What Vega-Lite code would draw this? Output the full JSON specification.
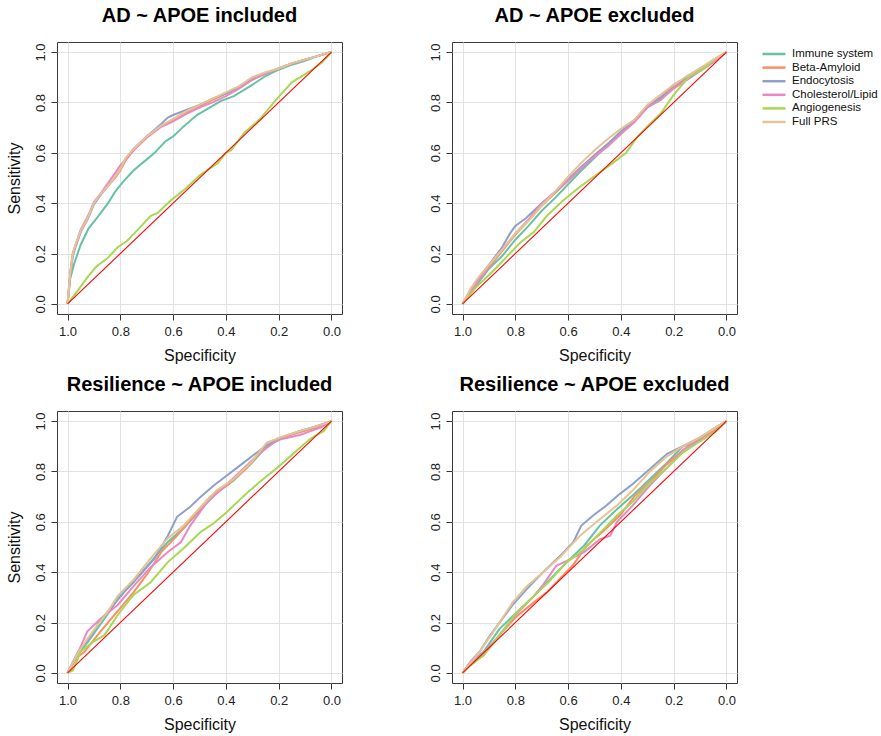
{
  "$schema": "https://vega.github.io/schema/vega-lite/v6.json",
  "padding": {"left": 5, "top": 5, "right": 5, "bottom": 0},
  "columns": 2,
  "spacing": {"row": 10, "column": 85},
  "datasets": {
    "diag": [{"spec": 1, "sens": 0}, {"spec": 0, "sens": 1}],
    "roc": [
      {"panel":"A","curve":"Immune system","spec":1,"sens":0},{"panel":"A","curve":"Immune system","spec":0.99,"sens":0.10},{"panel":"A","curve":"Immune system","spec":0.975,"sens":0.16},{"panel":"A","curve":"Immune system","spec":0.95,"sens":0.235},{"panel":"A","curve":"Immune system","spec":0.92,"sens":0.30},{"panel":"A","curve":"Immune system","spec":0.89,"sens":0.34},{"panel":"A","curve":"Immune system","spec":0.85,"sens":0.395},{"panel":"A","curve":"Immune system","spec":0.82,"sens":0.445},{"panel":"A","curve":"Immune system","spec":0.79,"sens":0.485},{"panel":"A","curve":"Immune system","spec":0.75,"sens":0.53},{"panel":"A","curve":"Immune system","spec":0.71,"sens":0.565},{"panel":"A","curve":"Immune system","spec":0.67,"sens":0.60},{"panel":"A","curve":"Immune system","spec":0.63,"sens":0.645},{"panel":"A","curve":"Immune system","spec":0.60,"sens":0.665},{"panel":"A","curve":"Immune system","spec":0.56,"sens":0.705},{"panel":"A","curve":"Immune system","spec":0.51,"sens":0.75},{"panel":"A","curve":"Immune system","spec":0.46,"sens":0.78},{"panel":"A","curve":"Immune system","spec":0.42,"sens":0.805},{"panel":"A","curve":"Immune system","spec":0.37,"sens":0.825},{"panel":"A","curve":"Immune system","spec":0.30,"sens":0.87},{"panel":"A","curve":"Immune system","spec":0.25,"sens":0.905},{"panel":"A","curve":"Immune system","spec":0.20,"sens":0.93},{"panel":"A","curve":"Immune system","spec":0.15,"sens":0.95},{"panel":"A","curve":"Immune system","spec":0.10,"sens":0.965},{"panel":"A","curve":"Immune system","spec":0.05,"sens":0.985},{"panel":"A","curve":"Immune system","spec":0,"sens":1},
      {"panel":"A","curve":"Beta-Amyloid","spec":1,"sens":0},{"panel":"A","curve":"Beta-Amyloid","spec":0.99,"sens":0.12},{"panel":"A","curve":"Beta-Amyloid","spec":0.98,"sens":0.20},{"panel":"A","curve":"Beta-Amyloid","spec":0.97,"sens":0.23},{"panel":"A","curve":"Beta-Amyloid","spec":0.95,"sens":0.29},{"panel":"A","curve":"Beta-Amyloid","spec":0.92,"sens":0.35},{"panel":"A","curve":"Beta-Amyloid","spec":0.90,"sens":0.40},{"panel":"A","curve":"Beta-Amyloid","spec":0.87,"sens":0.44},{"panel":"A","curve":"Beta-Amyloid","spec":0.85,"sens":0.465},{"panel":"A","curve":"Beta-Amyloid","spec":0.82,"sens":0.50},{"panel":"A","curve":"Beta-Amyloid","spec":0.80,"sens":0.53},{"panel":"A","curve":"Beta-Amyloid","spec":0.78,"sens":0.57},{"panel":"A","curve":"Beta-Amyloid","spec":0.75,"sens":0.61},{"panel":"A","curve":"Beta-Amyloid","spec":0.72,"sens":0.645},{"panel":"A","curve":"Beta-Amyloid","spec":0.70,"sens":0.665},{"panel":"A","curve":"Beta-Amyloid","spec":0.65,"sens":0.705},{"panel":"A","curve":"Beta-Amyloid","spec":0.60,"sens":0.73},{"panel":"A","curve":"Beta-Amyloid","spec":0.55,"sens":0.76},{"panel":"A","curve":"Beta-Amyloid","spec":0.50,"sens":0.785},{"panel":"A","curve":"Beta-Amyloid","spec":0.45,"sens":0.81},{"panel":"A","curve":"Beta-Amyloid","spec":0.40,"sens":0.835},{"panel":"A","curve":"Beta-Amyloid","spec":0.35,"sens":0.86},{"panel":"A","curve":"Beta-Amyloid","spec":0.30,"sens":0.895},{"panel":"A","curve":"Beta-Amyloid","spec":0.25,"sens":0.915},{"panel":"A","curve":"Beta-Amyloid","spec":0.20,"sens":0.935},{"panel":"A","curve":"Beta-Amyloid","spec":0.15,"sens":0.955},{"panel":"A","curve":"Beta-Amyloid","spec":0.10,"sens":0.97},{"panel":"A","curve":"Beta-Amyloid","spec":0.05,"sens":0.985},{"panel":"A","curve":"Beta-Amyloid","spec":0,"sens":1},
      {"panel":"A","curve":"Endocytosis","spec":1,"sens":0},{"panel":"A","curve":"Endocytosis","spec":0.99,"sens":0.11},{"panel":"A","curve":"Endocytosis","spec":0.98,"sens":0.19},{"panel":"A","curve":"Endocytosis","spec":0.97,"sens":0.225},{"panel":"A","curve":"Endocytosis","spec":0.95,"sens":0.285},{"panel":"A","curve":"Endocytosis","spec":0.92,"sens":0.345},{"panel":"A","curve":"Endocytosis","spec":0.90,"sens":0.395},{"panel":"A","curve":"Endocytosis","spec":0.87,"sens":0.44},{"panel":"A","curve":"Endocytosis","spec":0.85,"sens":0.465},{"panel":"A","curve":"Endocytosis","spec":0.82,"sens":0.505},{"panel":"A","curve":"Endocytosis","spec":0.80,"sens":0.535},{"panel":"A","curve":"Endocytosis","spec":0.78,"sens":0.575},{"panel":"A","curve":"Endocytosis","spec":0.75,"sens":0.615},{"panel":"A","curve":"Endocytosis","spec":0.72,"sens":0.645},{"panel":"A","curve":"Endocytosis","spec":0.70,"sens":0.665},{"panel":"A","curve":"Endocytosis","spec":0.65,"sens":0.71},{"panel":"A","curve":"Endocytosis","spec":0.62,"sens":0.74},{"panel":"A","curve":"Endocytosis","spec":0.60,"sens":0.75},{"panel":"A","curve":"Endocytosis","spec":0.55,"sens":0.77},{"panel":"A","curve":"Endocytosis","spec":0.50,"sens":0.79},{"panel":"A","curve":"Endocytosis","spec":0.45,"sens":0.815},{"panel":"A","curve":"Endocytosis","spec":0.40,"sens":0.835},{"panel":"A","curve":"Endocytosis","spec":0.35,"sens":0.86},{"panel":"A","curve":"Endocytosis","spec":0.30,"sens":0.89},{"panel":"A","curve":"Endocytosis","spec":0.25,"sens":0.915},{"panel":"A","curve":"Endocytosis","spec":0.20,"sens":0.935},{"panel":"A","curve":"Endocytosis","spec":0.15,"sens":0.955},{"panel":"A","curve":"Endocytosis","spec":0.10,"sens":0.97},{"panel":"A","curve":"Endocytosis","spec":0.05,"sens":0.985},{"panel":"A","curve":"Endocytosis","spec":0,"sens":1},
      {"panel":"A","curve":"Cholesterol/Lipid","spec":1,"sens":0},{"panel":"A","curve":"Cholesterol/Lipid","spec":0.99,"sens":0.12},{"panel":"A","curve":"Cholesterol/Lipid","spec":0.98,"sens":0.20},{"panel":"A","curve":"Cholesterol/Lipid","spec":0.97,"sens":0.235},{"panel":"A","curve":"Cholesterol/Lipid","spec":0.95,"sens":0.295},{"panel":"A","curve":"Cholesterol/Lipid","spec":0.92,"sens":0.355},{"panel":"A","curve":"Cholesterol/Lipid","spec":0.90,"sens":0.405},{"panel":"A","curve":"Cholesterol/Lipid","spec":0.87,"sens":0.445},{"panel":"A","curve":"Cholesterol/Lipid","spec":0.85,"sens":0.475},{"panel":"A","curve":"Cholesterol/Lipid","spec":0.82,"sens":0.52},{"panel":"A","curve":"Cholesterol/Lipid","spec":0.80,"sens":0.55},{"panel":"A","curve":"Cholesterol/Lipid","spec":0.78,"sens":0.575},{"panel":"A","curve":"Cholesterol/Lipid","spec":0.75,"sens":0.61},{"panel":"A","curve":"Cholesterol/Lipid","spec":0.72,"sens":0.64},{"panel":"A","curve":"Cholesterol/Lipid","spec":0.70,"sens":0.66},{"panel":"A","curve":"Cholesterol/Lipid","spec":0.65,"sens":0.70},{"panel":"A","curve":"Cholesterol/Lipid","spec":0.60,"sens":0.725},{"panel":"A","curve":"Cholesterol/Lipid","spec":0.55,"sens":0.755},{"panel":"A","curve":"Cholesterol/Lipid","spec":0.50,"sens":0.78},{"panel":"A","curve":"Cholesterol/Lipid","spec":0.45,"sens":0.80},{"panel":"A","curve":"Cholesterol/Lipid","spec":0.40,"sens":0.825},{"panel":"A","curve":"Cholesterol/Lipid","spec":0.35,"sens":0.855},{"panel":"A","curve":"Cholesterol/Lipid","spec":0.30,"sens":0.89},{"panel":"A","curve":"Cholesterol/Lipid","spec":0.25,"sens":0.915},{"panel":"A","curve":"Cholesterol/Lipid","spec":0.20,"sens":0.935},{"panel":"A","curve":"Cholesterol/Lipid","spec":0.15,"sens":0.955},{"panel":"A","curve":"Cholesterol/Lipid","spec":0.10,"sens":0.97},{"panel":"A","curve":"Cholesterol/Lipid","spec":0.05,"sens":0.985},{"panel":"A","curve":"Cholesterol/Lipid","spec":0,"sens":1},
      {"panel":"A","curve":"Angiogenesis","spec":1,"sens":0},{"panel":"A","curve":"Angiogenesis","spec":0.96,"sens":0.055},{"panel":"A","curve":"Angiogenesis","spec":0.925,"sens":0.105},{"panel":"A","curve":"Angiogenesis","spec":0.89,"sens":0.15},{"panel":"A","curve":"Angiogenesis","spec":0.85,"sens":0.18},{"panel":"A","curve":"Angiogenesis","spec":0.81,"sens":0.225},{"panel":"A","curve":"Angiogenesis","spec":0.775,"sens":0.25},{"panel":"A","curve":"Angiogenesis","spec":0.72,"sens":0.31},{"panel":"A","curve":"Angiogenesis","spec":0.685,"sens":0.35},{"panel":"A","curve":"Angiogenesis","spec":0.66,"sens":0.36},{"panel":"A","curve":"Angiogenesis","spec":0.61,"sens":0.41},{"panel":"A","curve":"Angiogenesis","spec":0.55,"sens":0.46},{"panel":"A","curve":"Angiogenesis","spec":0.50,"sens":0.51},{"panel":"A","curve":"Angiogenesis","spec":0.43,"sens":0.56},{"panel":"A","curve":"Angiogenesis","spec":0.40,"sens":0.60},{"panel":"A","curve":"Angiogenesis","spec":0.38,"sens":0.61},{"panel":"A","curve":"Angiogenesis","spec":0.33,"sens":0.68},{"panel":"A","curve":"Angiogenesis","spec":0.27,"sens":0.735},{"panel":"A","curve":"Angiogenesis","spec":0.21,"sens":0.81},{"panel":"A","curve":"Angiogenesis","spec":0.15,"sens":0.88},{"panel":"A","curve":"Angiogenesis","spec":0.08,"sens":0.925},{"panel":"A","curve":"Angiogenesis","spec":0.035,"sens":0.96},{"panel":"A","curve":"Angiogenesis","spec":0,"sens":1},
      {"panel":"A","curve":"Full PRS","spec":1,"sens":0},{"panel":"A","curve":"Full PRS","spec":0.99,"sens":0.12},{"panel":"A","curve":"Full PRS","spec":0.98,"sens":0.20},{"panel":"A","curve":"Full PRS","spec":0.97,"sens":0.235},{"panel":"A","curve":"Full PRS","spec":0.95,"sens":0.29},{"panel":"A","curve":"Full PRS","spec":0.92,"sens":0.35},{"panel":"A","curve":"Full PRS","spec":0.90,"sens":0.40},{"panel":"A","curve":"Full PRS","spec":0.88,"sens":0.43},{"panel":"A","curve":"Full PRS","spec":0.85,"sens":0.465},{"panel":"A","curve":"Full PRS","spec":0.82,"sens":0.505},{"panel":"A","curve":"Full PRS","spec":0.80,"sens":0.535},{"panel":"A","curve":"Full PRS","spec":0.78,"sens":0.58},{"panel":"A","curve":"Full PRS","spec":0.75,"sens":0.615},{"panel":"A","curve":"Full PRS","spec":0.72,"sens":0.645},{"panel":"A","curve":"Full PRS","spec":0.70,"sens":0.665},{"panel":"A","curve":"Full PRS","spec":0.65,"sens":0.705},{"panel":"A","curve":"Full PRS","spec":0.60,"sens":0.735},{"panel":"A","curve":"Full PRS","spec":0.55,"sens":0.765},{"panel":"A","curve":"Full PRS","spec":0.50,"sens":0.79},{"panel":"A","curve":"Full PRS","spec":0.45,"sens":0.815},{"panel":"A","curve":"Full PRS","spec":0.40,"sens":0.84},{"panel":"A","curve":"Full PRS","spec":0.35,"sens":0.865},{"panel":"A","curve":"Full PRS","spec":0.30,"sens":0.90},{"panel":"A","curve":"Full PRS","spec":0.25,"sens":0.92},{"panel":"A","curve":"Full PRS","spec":0.20,"sens":0.935},{"panel":"A","curve":"Full PRS","spec":0.15,"sens":0.955},{"panel":"A","curve":"Full PRS","spec":0.10,"sens":0.97},{"panel":"A","curve":"Full PRS","spec":0.05,"sens":0.985},{"panel":"A","curve":"Full PRS","spec":0,"sens":1},

      {"panel":"B","curve":"Immune system","spec":1,"sens":0},{"panel":"B","curve":"Immune system","spec":0.97,"sens":0.045},{"panel":"B","curve":"Immune system","spec":0.94,"sens":0.085},{"panel":"B","curve":"Immune system","spec":0.90,"sens":0.14},{"panel":"B","curve":"Immune system","spec":0.85,"sens":0.19},{"panel":"B","curve":"Immune system","spec":0.80,"sens":0.255},{"panel":"B","curve":"Immune system","spec":0.75,"sens":0.31},{"panel":"B","curve":"Immune system","spec":0.70,"sens":0.37},{"panel":"B","curve":"Immune system","spec":0.65,"sens":0.42},{"panel":"B","curve":"Immune system","spec":0.60,"sens":0.475},{"panel":"B","curve":"Immune system","spec":0.55,"sens":0.53},{"panel":"B","curve":"Immune system","spec":0.50,"sens":0.58},{"panel":"B","curve":"Immune system","spec":0.45,"sens":0.63},{"panel":"B","curve":"Immune system","spec":0.40,"sens":0.675},{"panel":"B","curve":"Immune system","spec":0.35,"sens":0.725},{"panel":"B","curve":"Immune system","spec":0.30,"sens":0.78},{"panel":"B","curve":"Immune system","spec":0.25,"sens":0.81},{"panel":"B","curve":"Immune system","spec":0.20,"sens":0.86},{"panel":"B","curve":"Immune system","spec":0.15,"sens":0.89},{"panel":"B","curve":"Immune system","spec":0.10,"sens":0.925},{"panel":"B","curve":"Immune system","spec":0.05,"sens":0.96},{"panel":"B","curve":"Immune system","spec":0,"sens":1},
      {"panel":"B","curve":"Beta-Amyloid","spec":1,"sens":0},{"panel":"B","curve":"Beta-Amyloid","spec":0.97,"sens":0.05},{"panel":"B","curve":"Beta-Amyloid","spec":0.94,"sens":0.095},{"panel":"B","curve":"Beta-Amyloid","spec":0.90,"sens":0.145},{"panel":"B","curve":"Beta-Amyloid","spec":0.85,"sens":0.21},{"panel":"B","curve":"Beta-Amyloid","spec":0.80,"sens":0.275},{"panel":"B","curve":"Beta-Amyloid","spec":0.75,"sens":0.33},{"panel":"B","curve":"Beta-Amyloid","spec":0.70,"sens":0.39},{"panel":"B","curve":"Beta-Amyloid","spec":0.65,"sens":0.44},{"panel":"B","curve":"Beta-Amyloid","spec":0.60,"sens":0.49},{"panel":"B","curve":"Beta-Amyloid","spec":0.55,"sens":0.54},{"panel":"B","curve":"Beta-Amyloid","spec":0.50,"sens":0.59},{"panel":"B","curve":"Beta-Amyloid","spec":0.45,"sens":0.635},{"panel":"B","curve":"Beta-Amyloid","spec":0.40,"sens":0.68},{"panel":"B","curve":"Beta-Amyloid","spec":0.35,"sens":0.725},{"panel":"B","curve":"Beta-Amyloid","spec":0.30,"sens":0.785},{"panel":"B","curve":"Beta-Amyloid","spec":0.25,"sens":0.815},{"panel":"B","curve":"Beta-Amyloid","spec":0.20,"sens":0.865},{"panel":"B","curve":"Beta-Amyloid","spec":0.15,"sens":0.895},{"panel":"B","curve":"Beta-Amyloid","spec":0.10,"sens":0.93},{"panel":"B","curve":"Beta-Amyloid","spec":0.05,"sens":0.965},{"panel":"B","curve":"Beta-Amyloid","spec":0,"sens":1},
      {"panel":"B","curve":"Endocytosis","spec":1,"sens":0},{"panel":"B","curve":"Endocytosis","spec":0.97,"sens":0.055},{"panel":"B","curve":"Endocytosis","spec":0.94,"sens":0.10},{"panel":"B","curve":"Endocytosis","spec":0.90,"sens":0.155},{"panel":"B","curve":"Endocytosis","spec":0.85,"sens":0.225},{"panel":"B","curve":"Endocytosis","spec":0.82,"sens":0.28},{"panel":"B","curve":"Endocytosis","spec":0.80,"sens":0.31},{"panel":"B","curve":"Endocytosis","spec":0.76,"sens":0.34},{"panel":"B","curve":"Endocytosis","spec":0.72,"sens":0.38},{"panel":"B","curve":"Endocytosis","spec":0.70,"sens":0.40},{"panel":"B","curve":"Endocytosis","spec":0.65,"sens":0.44},{"panel":"B","curve":"Endocytosis","spec":0.60,"sens":0.495},{"panel":"B","curve":"Endocytosis","spec":0.55,"sens":0.545},{"panel":"B","curve":"Endocytosis","spec":0.50,"sens":0.59},{"panel":"B","curve":"Endocytosis","spec":0.45,"sens":0.635},{"panel":"B","curve":"Endocytosis","spec":0.40,"sens":0.685},{"panel":"B","curve":"Endocytosis","spec":0.35,"sens":0.73},{"panel":"B","curve":"Endocytosis","spec":0.30,"sens":0.785},{"panel":"B","curve":"Endocytosis","spec":0.25,"sens":0.82},{"panel":"B","curve":"Endocytosis","spec":0.20,"sens":0.87},{"panel":"B","curve":"Endocytosis","spec":0.15,"sens":0.90},{"panel":"B","curve":"Endocytosis","spec":0.10,"sens":0.935},{"panel":"B","curve":"Endocytosis","spec":0.05,"sens":0.965},{"panel":"B","curve":"Endocytosis","spec":0,"sens":1},
      {"panel":"B","curve":"Cholesterol/Lipid","spec":1,"sens":0},{"panel":"B","curve":"Cholesterol/Lipid","spec":0.97,"sens":0.05},{"panel":"B","curve":"Cholesterol/Lipid","spec":0.94,"sens":0.09},{"panel":"B","curve":"Cholesterol/Lipid","spec":0.90,"sens":0.15},{"panel":"B","curve":"Cholesterol/Lipid","spec":0.85,"sens":0.215},{"panel":"B","curve":"Cholesterol/Lipid","spec":0.80,"sens":0.28},{"panel":"B","curve":"Cholesterol/Lipid","spec":0.75,"sens":0.335},{"panel":"B","curve":"Cholesterol/Lipid","spec":0.70,"sens":0.40},{"panel":"B","curve":"Cholesterol/Lipid","spec":0.65,"sens":0.445},{"panel":"B","curve":"Cholesterol/Lipid","spec":0.60,"sens":0.49},{"panel":"B","curve":"Cholesterol/Lipid","spec":0.55,"sens":0.54},{"panel":"B","curve":"Cholesterol/Lipid","spec":0.50,"sens":0.585},{"panel":"B","curve":"Cholesterol/Lipid","spec":0.45,"sens":0.625},{"panel":"B","curve":"Cholesterol/Lipid","spec":0.40,"sens":0.675},{"panel":"B","curve":"Cholesterol/Lipid","spec":0.35,"sens":0.72},{"panel":"B","curve":"Cholesterol/Lipid","spec":0.30,"sens":0.78},{"panel":"B","curve":"Cholesterol/Lipid","spec":0.25,"sens":0.81},{"panel":"B","curve":"Cholesterol/Lipid","spec":0.20,"sens":0.855},{"panel":"B","curve":"Cholesterol/Lipid","spec":0.15,"sens":0.89},{"panel":"B","curve":"Cholesterol/Lipid","spec":0.10,"sens":0.925},{"panel":"B","curve":"Cholesterol/Lipid","spec":0.05,"sens":0.96},{"panel":"B","curve":"Cholesterol/Lipid","spec":0,"sens":1},
      {"panel":"B","curve":"Angiogenesis","spec":1,"sens":0},{"panel":"B","curve":"Angiogenesis","spec":0.95,"sens":0.065},{"panel":"B","curve":"Angiogenesis","spec":0.885,"sens":0.13},{"panel":"B","curve":"Angiogenesis","spec":0.835,"sens":0.185},{"panel":"B","curve":"Angiogenesis","spec":0.78,"sens":0.245},{"panel":"B","curve":"Angiogenesis","spec":0.73,"sens":0.285},{"panel":"B","curve":"Angiogenesis","spec":0.68,"sens":0.35},{"panel":"B","curve":"Angiogenesis","spec":0.62,"sens":0.41},{"panel":"B","curve":"Angiogenesis","spec":0.555,"sens":0.465},{"panel":"B","curve":"Angiogenesis","spec":0.49,"sens":0.515},{"panel":"B","curve":"Angiogenesis","spec":0.43,"sens":0.56},{"panel":"B","curve":"Angiogenesis","spec":0.38,"sens":0.60},{"panel":"B","curve":"Angiogenesis","spec":0.34,"sens":0.66},{"panel":"B","curve":"Angiogenesis","spec":0.30,"sens":0.705},{"panel":"B","curve":"Angiogenesis","spec":0.25,"sens":0.755},{"panel":"B","curve":"Angiogenesis","spec":0.20,"sens":0.83},{"panel":"B","curve":"Angiogenesis","spec":0.14,"sens":0.905},{"panel":"B","curve":"Angiogenesis","spec":0.09,"sens":0.93},{"panel":"B","curve":"Angiogenesis","spec":0.04,"sens":0.975},{"panel":"B","curve":"Angiogenesis","spec":0,"sens":1},
      {"panel":"B","curve":"Full PRS","spec":1,"sens":0},{"panel":"B","curve":"Full PRS","spec":0.97,"sens":0.06},{"panel":"B","curve":"Full PRS","spec":0.94,"sens":0.105},{"panel":"B","curve":"Full PRS","spec":0.90,"sens":0.155},{"panel":"B","curve":"Full PRS","spec":0.85,"sens":0.215},{"panel":"B","curve":"Full PRS","spec":0.80,"sens":0.28},{"panel":"B","curve":"Full PRS","spec":0.75,"sens":0.33},{"panel":"B","curve":"Full PRS","spec":0.70,"sens":0.39},{"panel":"B","curve":"Full PRS","spec":0.65,"sens":0.445},{"panel":"B","curve":"Full PRS","spec":0.60,"sens":0.505},{"panel":"B","curve":"Full PRS","spec":0.55,"sens":0.56},{"panel":"B","curve":"Full PRS","spec":0.50,"sens":0.61},{"panel":"B","curve":"Full PRS","spec":0.45,"sens":0.655},{"panel":"B","curve":"Full PRS","spec":0.40,"sens":0.695},{"panel":"B","curve":"Full PRS","spec":0.35,"sens":0.73},{"panel":"B","curve":"Full PRS","spec":0.30,"sens":0.79},{"panel":"B","curve":"Full PRS","spec":0.25,"sens":0.83},{"panel":"B","curve":"Full PRS","spec":0.20,"sens":0.87},{"panel":"B","curve":"Full PRS","spec":0.15,"sens":0.905},{"panel":"B","curve":"Full PRS","spec":0.10,"sens":0.935},{"panel":"B","curve":"Full PRS","spec":0.05,"sens":0.97},{"panel":"B","curve":"Full PRS","spec":0,"sens":1},

      {"panel":"C","curve":"Immune system","spec":1,"sens":0},{"panel":"C","curve":"Immune system","spec":0.96,"sens":0.075},{"panel":"C","curve":"Immune system","spec":0.925,"sens":0.12},{"panel":"C","curve":"Immune system","spec":0.85,"sens":0.23},{"panel":"C","curve":"Immune system","spec":0.81,"sens":0.295},{"panel":"C","curve":"Immune system","spec":0.75,"sens":0.36},{"panel":"C","curve":"Immune system","spec":0.685,"sens":0.44},{"panel":"C","curve":"Immune system","spec":0.62,"sens":0.52},{"panel":"C","curve":"Immune system","spec":0.56,"sens":0.575},{"panel":"C","curve":"Immune system","spec":0.495,"sens":0.65},{"panel":"C","curve":"Immune system","spec":0.435,"sens":0.715},{"panel":"C","curve":"Immune system","spec":0.37,"sens":0.765},{"panel":"C","curve":"Immune system","spec":0.305,"sens":0.83},{"panel":"C","curve":"Immune system","spec":0.245,"sens":0.90},{"panel":"C","curve":"Immune system","spec":0.18,"sens":0.935},{"panel":"C","curve":"Immune system","spec":0.12,"sens":0.96},{"panel":"C","curve":"Immune system","spec":0.055,"sens":0.98},{"panel":"C","curve":"Immune system","spec":0,"sens":1},
      {"panel":"C","curve":"Beta-Amyloid","spec":1,"sens":0},{"panel":"C","curve":"Beta-Amyloid","spec":0.965,"sens":0.06},{"panel":"C","curve":"Beta-Amyloid","spec":0.935,"sens":0.085},{"panel":"C","curve":"Beta-Amyloid","spec":0.875,"sens":0.165},{"panel":"C","curve":"Beta-Amyloid","spec":0.81,"sens":0.245},{"panel":"C","curve":"Beta-Amyloid","spec":0.75,"sens":0.32},{"panel":"C","curve":"Beta-Amyloid","spec":0.70,"sens":0.39},{"panel":"C","curve":"Beta-Amyloid","spec":0.645,"sens":0.48},{"panel":"C","curve":"Beta-Amyloid","spec":0.585,"sens":0.545},{"panel":"C","curve":"Beta-Amyloid","spec":0.52,"sens":0.625},{"panel":"C","curve":"Beta-Amyloid","spec":0.46,"sens":0.70},{"panel":"C","curve":"Beta-Amyloid","spec":0.395,"sens":0.745},{"panel":"C","curve":"Beta-Amyloid","spec":0.33,"sens":0.805},{"panel":"C","curve":"Beta-Amyloid","spec":0.27,"sens":0.875},{"panel":"C","curve":"Beta-Amyloid","spec":0.205,"sens":0.93},{"panel":"C","curve":"Beta-Amyloid","spec":0.14,"sens":0.95},{"panel":"C","curve":"Beta-Amyloid","spec":0.055,"sens":0.975},{"panel":"C","curve":"Beta-Amyloid","spec":0,"sens":1},
      {"panel":"C","curve":"Endocytosis","spec":1,"sens":0},{"panel":"C","curve":"Endocytosis","spec":0.96,"sens":0.085},{"panel":"C","curve":"Endocytosis","spec":0.925,"sens":0.125},{"panel":"C","curve":"Endocytosis","spec":0.875,"sens":0.21},{"panel":"C","curve":"Endocytosis","spec":0.825,"sens":0.27},{"panel":"C","curve":"Endocytosis","spec":0.775,"sens":0.335},{"panel":"C","curve":"Endocytosis","spec":0.725,"sens":0.39},{"panel":"C","curve":"Endocytosis","spec":0.67,"sens":0.455},{"panel":"C","curve":"Endocytosis","spec":0.62,"sens":0.545},{"panel":"C","curve":"Endocytosis","spec":0.585,"sens":0.62},{"panel":"C","curve":"Endocytosis","spec":0.535,"sens":0.66},{"panel":"C","curve":"Endocytosis","spec":0.495,"sens":0.70},{"panel":"C","curve":"Endocytosis","spec":0.445,"sens":0.745},{"panel":"C","curve":"Endocytosis","spec":0.395,"sens":0.785},{"panel":"C","curve":"Endocytosis","spec":0.345,"sens":0.825},{"panel":"C","curve":"Endocytosis","spec":0.295,"sens":0.865},{"panel":"C","curve":"Endocytosis","spec":0.245,"sens":0.905},{"panel":"C","curve":"Endocytosis","spec":0.18,"sens":0.94},{"panel":"C","curve":"Endocytosis","spec":0.12,"sens":0.96},{"panel":"C","curve":"Endocytosis","spec":0.055,"sens":0.98},{"panel":"C","curve":"Endocytosis","spec":0,"sens":1},
      {"panel":"C","curve":"Cholesterol/Lipid","spec":1,"sens":0},{"panel":"C","curve":"Cholesterol/Lipid","spec":0.965,"sens":0.07},{"panel":"C","curve":"Cholesterol/Lipid","spec":0.925,"sens":0.165},{"panel":"C","curve":"Cholesterol/Lipid","spec":0.875,"sens":0.215},{"panel":"C","curve":"Cholesterol/Lipid","spec":0.81,"sens":0.27},{"panel":"C","curve":"Cholesterol/Lipid","spec":0.75,"sens":0.345},{"panel":"C","curve":"Cholesterol/Lipid","spec":0.685,"sens":0.42},{"panel":"C","curve":"Cholesterol/Lipid","spec":0.62,"sens":0.48},{"panel":"C","curve":"Cholesterol/Lipid","spec":0.57,"sens":0.52},{"panel":"C","curve":"Cholesterol/Lipid","spec":0.535,"sens":0.585},{"panel":"C","curve":"Cholesterol/Lipid","spec":0.47,"sens":0.68},{"panel":"C","curve":"Cholesterol/Lipid","spec":0.405,"sens":0.74},{"panel":"C","curve":"Cholesterol/Lipid","spec":0.345,"sens":0.80},{"panel":"C","curve":"Cholesterol/Lipid","spec":0.28,"sens":0.865},{"panel":"C","curve":"Cholesterol/Lipid","spec":0.205,"sens":0.925},{"panel":"C","curve":"Cholesterol/Lipid","spec":0.12,"sens":0.945},{"panel":"C","curve":"Cholesterol/Lipid","spec":0.04,"sens":0.975},{"panel":"C","curve":"Cholesterol/Lipid","spec":0,"sens":1},
      {"panel":"C","curve":"Angiogenesis","spec":1,"sens":0},{"panel":"C","curve":"Angiogenesis","spec":0.98,"sens":0.01},{"panel":"C","curve":"Angiogenesis","spec":0.95,"sens":0.085},{"panel":"C","curve":"Angiogenesis","spec":0.90,"sens":0.125},{"panel":"C","curve":"Angiogenesis","spec":0.86,"sens":0.15},{"panel":"C","curve":"Angiogenesis","spec":0.81,"sens":0.23},{"panel":"C","curve":"Angiogenesis","spec":0.75,"sens":0.31},{"panel":"C","curve":"Angiogenesis","spec":0.685,"sens":0.36},{"panel":"C","curve":"Angiogenesis","spec":0.62,"sens":0.44},{"panel":"C","curve":"Angiogenesis","spec":0.56,"sens":0.495},{"panel":"C","curve":"Angiogenesis","spec":0.495,"sens":0.56},{"panel":"C","curve":"Angiogenesis","spec":0.445,"sens":0.595},{"panel":"C","curve":"Angiogenesis","spec":0.395,"sens":0.64},{"panel":"C","curve":"Angiogenesis","spec":0.33,"sens":0.705},{"panel":"C","curve":"Angiogenesis","spec":0.27,"sens":0.76},{"panel":"C","curve":"Angiogenesis","spec":0.205,"sens":0.815},{"panel":"C","curve":"Angiogenesis","spec":0.14,"sens":0.875},{"panel":"C","curve":"Angiogenesis","spec":0.08,"sens":0.93},{"panel":"C","curve":"Angiogenesis","spec":0.03,"sens":0.96},{"panel":"C","curve":"Angiogenesis","spec":0,"sens":1},
      {"panel":"C","curve":"Full PRS","spec":1,"sens":0},{"panel":"C","curve":"Full PRS","spec":0.96,"sens":0.08},{"panel":"C","curve":"Full PRS","spec":0.925,"sens":0.135},{"panel":"C","curve":"Full PRS","spec":0.85,"sens":0.24},{"panel":"C","curve":"Full PRS","spec":0.81,"sens":0.305},{"panel":"C","curve":"Full PRS","spec":0.75,"sens":0.37},{"panel":"C","curve":"Full PRS","spec":0.685,"sens":0.455},{"panel":"C","curve":"Full PRS","spec":0.62,"sens":0.535},{"panel":"C","curve":"Full PRS","spec":0.56,"sens":0.585},{"panel":"C","curve":"Full PRS","spec":0.495,"sens":0.66},{"panel":"C","curve":"Full PRS","spec":0.435,"sens":0.725},{"panel":"C","curve":"Full PRS","spec":0.37,"sens":0.77},{"panel":"C","curve":"Full PRS","spec":0.305,"sens":0.835},{"panel":"C","curve":"Full PRS","spec":0.245,"sens":0.915},{"panel":"C","curve":"Full PRS","spec":0.18,"sens":0.94},{"panel":"C","curve":"Full PRS","spec":0.12,"sens":0.96},{"panel":"C","curve":"Full PRS","spec":0.055,"sens":0.98},{"panel":"C","curve":"Full PRS","spec":0,"sens":1},

      {"panel":"D","curve":"Immune system","spec":1,"sens":0},{"panel":"D","curve":"Immune system","spec":0.97,"sens":0.04},{"panel":"D","curve":"Immune system","spec":0.92,"sens":0.085},{"panel":"D","curve":"Immune system","spec":0.86,"sens":0.175},{"panel":"D","curve":"Immune system","spec":0.795,"sens":0.24},{"panel":"D","curve":"Immune system","spec":0.73,"sens":0.305},{"panel":"D","curve":"Immune system","spec":0.67,"sens":0.37},{"panel":"D","curve":"Immune system","spec":0.605,"sens":0.44},{"panel":"D","curve":"Immune system","spec":0.54,"sens":0.505},{"panel":"D","curve":"Immune system","spec":0.48,"sens":0.585},{"panel":"D","curve":"Immune system","spec":0.415,"sens":0.65},{"panel":"D","curve":"Immune system","spec":0.355,"sens":0.705},{"panel":"D","curve":"Immune system","spec":0.29,"sens":0.77},{"panel":"D","curve":"Immune system","spec":0.225,"sens":0.835},{"panel":"D","curve":"Immune system","spec":0.165,"sens":0.90},{"panel":"D","curve":"Immune system","spec":0.10,"sens":0.92},{"panel":"D","curve":"Immune system","spec":0.04,"sens":0.965},{"panel":"D","curve":"Immune system","spec":0,"sens":1},
      {"panel":"D","curve":"Beta-Amyloid","spec":1,"sens":0},{"panel":"D","curve":"Beta-Amyloid","spec":0.97,"sens":0.035},{"panel":"D","curve":"Beta-Amyloid","spec":0.92,"sens":0.07},{"panel":"D","curve":"Beta-Amyloid","spec":0.86,"sens":0.15},{"panel":"D","curve":"Beta-Amyloid","spec":0.80,"sens":0.22},{"panel":"D","curve":"Beta-Amyloid","spec":0.73,"sens":0.28},{"panel":"D","curve":"Beta-Amyloid","spec":0.68,"sens":0.32},{"panel":"D","curve":"Beta-Amyloid","spec":0.63,"sens":0.375},{"panel":"D","curve":"Beta-Amyloid","spec":0.58,"sens":0.43},{"panel":"D","curve":"Beta-Amyloid","spec":0.53,"sens":0.505},{"panel":"D","curve":"Beta-Amyloid","spec":0.47,"sens":0.56},{"panel":"D","curve":"Beta-Amyloid","spec":0.40,"sens":0.63},{"panel":"D","curve":"Beta-Amyloid","spec":0.35,"sens":0.70},{"panel":"D","curve":"Beta-Amyloid","spec":0.29,"sens":0.76},{"panel":"D","curve":"Beta-Amyloid","spec":0.225,"sens":0.83},{"panel":"D","curve":"Beta-Amyloid","spec":0.165,"sens":0.885},{"panel":"D","curve":"Beta-Amyloid","spec":0.10,"sens":0.93},{"panel":"D","curve":"Beta-Amyloid","spec":0.04,"sens":0.965},{"panel":"D","curve":"Beta-Amyloid","spec":0,"sens":1},
      {"panel":"D","curve":"Endocytosis","spec":1,"sens":0},{"panel":"D","curve":"Endocytosis","spec":0.97,"sens":0.045},{"panel":"D","curve":"Endocytosis","spec":0.935,"sens":0.085},{"panel":"D","curve":"Endocytosis","spec":0.895,"sens":0.15},{"panel":"D","curve":"Endocytosis","spec":0.86,"sens":0.20},{"panel":"D","curve":"Endocytosis","spec":0.81,"sens":0.27},{"panel":"D","curve":"Endocytosis","spec":0.755,"sens":0.335},{"panel":"D","curve":"Endocytosis","spec":0.695,"sens":0.40},{"panel":"D","curve":"Endocytosis","spec":0.63,"sens":0.465},{"panel":"D","curve":"Endocytosis","spec":0.58,"sens":0.52},{"panel":"D","curve":"Endocytosis","spec":0.55,"sens":0.585},{"panel":"D","curve":"Endocytosis","spec":0.505,"sens":0.625},{"panel":"D","curve":"Endocytosis","spec":0.455,"sens":0.665},{"panel":"D","curve":"Endocytosis","spec":0.405,"sens":0.71},{"panel":"D","curve":"Endocytosis","spec":0.355,"sens":0.75},{"panel":"D","curve":"Endocytosis","spec":0.29,"sens":0.81},{"panel":"D","curve":"Endocytosis","spec":0.225,"sens":0.87},{"panel":"D","curve":"Endocytosis","spec":0.165,"sens":0.90},{"panel":"D","curve":"Endocytosis","spec":0.10,"sens":0.935},{"panel":"D","curve":"Endocytosis","spec":0.04,"sens":0.975},{"panel":"D","curve":"Endocytosis","spec":0,"sens":1},
      {"panel":"D","curve":"Cholesterol/Lipid","spec":1,"sens":0},{"panel":"D","curve":"Cholesterol/Lipid","spec":0.97,"sens":0.04},{"panel":"D","curve":"Cholesterol/Lipid","spec":0.92,"sens":0.08},{"panel":"D","curve":"Cholesterol/Lipid","spec":0.86,"sens":0.15},{"panel":"D","curve":"Cholesterol/Lipid","spec":0.795,"sens":0.235},{"panel":"D","curve":"Cholesterol/Lipid","spec":0.73,"sens":0.305},{"panel":"D","curve":"Cholesterol/Lipid","spec":0.695,"sens":0.35},{"panel":"D","curve":"Cholesterol/Lipid","spec":0.645,"sens":0.425},{"panel":"D","curve":"Cholesterol/Lipid","spec":0.605,"sens":0.445},{"panel":"D","curve":"Cholesterol/Lipid","spec":0.54,"sens":0.48},{"panel":"D","curve":"Cholesterol/Lipid","spec":0.48,"sens":0.53},{"panel":"D","curve":"Cholesterol/Lipid","spec":0.44,"sens":0.545},{"panel":"D","curve":"Cholesterol/Lipid","spec":0.415,"sens":0.60},{"panel":"D","curve":"Cholesterol/Lipid","spec":0.355,"sens":0.665},{"panel":"D","curve":"Cholesterol/Lipid","spec":0.29,"sens":0.745},{"panel":"D","curve":"Cholesterol/Lipid","spec":0.225,"sens":0.815},{"panel":"D","curve":"Cholesterol/Lipid","spec":0.165,"sens":0.885},{"panel":"D","curve":"Cholesterol/Lipid","spec":0.10,"sens":0.925},{"panel":"D","curve":"Cholesterol/Lipid","spec":0.04,"sens":0.96},{"panel":"D","curve":"Cholesterol/Lipid","spec":0,"sens":1},
      {"panel":"D","curve":"Angiogenesis","spec":1,"sens":0},{"panel":"D","curve":"Angiogenesis","spec":0.97,"sens":0.03},{"panel":"D","curve":"Angiogenesis","spec":0.92,"sens":0.07},{"panel":"D","curve":"Angiogenesis","spec":0.86,"sens":0.15},{"panel":"D","curve":"Angiogenesis","spec":0.795,"sens":0.24},{"panel":"D","curve":"Angiogenesis","spec":0.73,"sens":0.305},{"panel":"D","curve":"Angiogenesis","spec":0.67,"sens":0.365},{"panel":"D","curve":"Angiogenesis","spec":0.605,"sens":0.44},{"panel":"D","curve":"Angiogenesis","spec":0.54,"sens":0.49},{"panel":"D","curve":"Angiogenesis","spec":0.48,"sens":0.555},{"panel":"D","curve":"Angiogenesis","spec":0.415,"sens":0.625},{"panel":"D","curve":"Angiogenesis","spec":0.355,"sens":0.68},{"panel":"D","curve":"Angiogenesis","spec":0.29,"sens":0.755},{"panel":"D","curve":"Angiogenesis","spec":0.225,"sens":0.815},{"panel":"D","curve":"Angiogenesis","spec":0.165,"sens":0.875},{"panel":"D","curve":"Angiogenesis","spec":0.10,"sens":0.92},{"panel":"D","curve":"Angiogenesis","spec":0.04,"sens":0.96},{"panel":"D","curve":"Angiogenesis","spec":0,"sens":1},
      {"panel":"D","curve":"Full PRS","spec":1,"sens":0},{"panel":"D","curve":"Full PRS","spec":0.97,"sens":0.04},{"panel":"D","curve":"Full PRS","spec":0.935,"sens":0.085},{"panel":"D","curve":"Full PRS","spec":0.895,"sens":0.145},{"panel":"D","curve":"Full PRS","spec":0.86,"sens":0.20},{"panel":"D","curve":"Full PRS","spec":0.81,"sens":0.28},{"panel":"D","curve":"Full PRS","spec":0.755,"sens":0.345},{"panel":"D","curve":"Full PRS","spec":0.695,"sens":0.40},{"panel":"D","curve":"Full PRS","spec":0.63,"sens":0.46},{"panel":"D","curve":"Full PRS","spec":0.555,"sens":0.545},{"panel":"D","curve":"Full PRS","spec":0.48,"sens":0.61},{"panel":"D","curve":"Full PRS","spec":0.415,"sens":0.665},{"panel":"D","curve":"Full PRS","spec":0.355,"sens":0.725},{"panel":"D","curve":"Full PRS","spec":0.29,"sens":0.80},{"panel":"D","curve":"Full PRS","spec":0.225,"sens":0.86},{"panel":"D","curve":"Full PRS","spec":0.165,"sens":0.90},{"panel":"D","curve":"Full PRS","spec":0.10,"sens":0.935},{"panel":"D","curve":"Full PRS","spec":0.04,"sens":0.975},{"panel":"D","curve":"Full PRS","spec":0,"sens":1}
    ]
  },
  "concat": [
    {
      "title": "AD ~ APOE included",
      "width": 285, "height": 272,
      "layer": [
        {
          "data": {"name": "roc"},
          "transform": [{"filter": "datum.panel == 'A'"}],
          "mark": {"type": "line", "strokeWidth": 2},
          "encoding": {
            "x": {"field": "spec", "type": "quantitative", "scale": {"domain": [-0.04, 1.04], "reverse": true, "nice": false, "zero": false},
                  "axis": {"title": "Specificity", "values": [0,0.1,0.2,0.3,0.4,0.5,0.6,0.7,0.8,0.9,1]}},
            "y": {"field": "sens", "type": "quantitative", "scale": {"domain": [-0.04, 1.04], "nice": false, "zero": false},
                  "axis": {"title": "Sensitivity", "values": [0,0.1,0.2,0.3,0.4,0.5,0.6,0.7,0.8,0.9,1]}},
            "color": {"field": "curve", "type": "nominal", "scale": {"domain": ["Immune system","Beta-Amyloid","Endocytosis","Cholesterol/Lipid","Angiogenesis","Full PRS"], "range": ["#66C2A5","#FC8D62","#8DA0CB","#E78AC3","#A6D854","#E5C494"]}, "legend": {"title": null}}
          }
        },
        {
          "data": {"name": "diag"},
          "mark": {"type": "line", "color": "#FF0000", "stroke": "#FF0000", "strokeWidth": 1.1},
          "encoding": {"x": {"field": "spec", "type": "quantitative"}, "y": {"field": "sens", "type": "quantitative"}}
        }
      ]
    },
    {
      "title": "AD ~ APOE excluded",
      "width": 285, "height": 272,
      "layer": [
        {
          "data": {"name": "roc"},
          "transform": [{"filter": "datum.panel == 'B'"}],
          "mark": {"type": "line", "strokeWidth": 2},
          "encoding": {
            "x": {"field": "spec", "type": "quantitative", "scale": {"domain": [-0.04, 1.04], "reverse": true, "nice": false, "zero": false},
                  "axis": {"title": "Specificity", "values": [0,0.1,0.2,0.3,0.4,0.5,0.6,0.7,0.8,0.9,1]}},
            "y": {"field": "sens", "type": "quantitative", "scale": {"domain": [-0.04, 1.04], "nice": false, "zero": false},
                  "axis": {"title": null, "values": [0,0.1,0.2,0.3,0.4,0.5,0.6,0.7,0.8,0.9,1]}},
            "color": {"field": "curve", "type": "nominal", "scale": {"domain": ["Immune system","Beta-Amyloid","Endocytosis","Cholesterol/Lipid","Angiogenesis","Full PRS"], "range": ["#66C2A5","#FC8D62","#8DA0CB","#E78AC3","#A6D854","#E5C494"]}, "legend": {"title": null}}
          }
        },
        {
          "data": {"name": "diag"},
          "mark": {"type": "line", "color": "#FF0000", "stroke": "#FF0000", "strokeWidth": 1.1},
          "encoding": {"x": {"field": "spec", "type": "quantitative"}, "y": {"field": "sens", "type": "quantitative"}}
        }
      ]
    },
    {
      "title": "Resilience ~ APOE included",
      "width": 285, "height": 272,
      "layer": [
        {
          "data": {"name": "roc"},
          "transform": [{"filter": "datum.panel == 'C'"}],
          "mark": {"type": "line", "strokeWidth": 2},
          "encoding": {
            "x": {"field": "spec", "type": "quantitative", "scale": {"domain": [-0.04, 1.04], "reverse": true, "nice": false, "zero": false},
                  "axis": {"title": "Specificity", "values": [0,0.1,0.2,0.3,0.4,0.5,0.6,0.7,0.8,0.9,1]}},
            "y": {"field": "sens", "type": "quantitative", "scale": {"domain": [-0.04, 1.04], "nice": false, "zero": false},
                  "axis": {"title": "Sensitivity", "values": [0,0.1,0.2,0.3,0.4,0.5,0.6,0.7,0.8,0.9,1]}},
            "color": {"field": "curve", "type": "nominal", "scale": {"domain": ["Immune system","Beta-Amyloid","Endocytosis","Cholesterol/Lipid","Angiogenesis","Full PRS"], "range": ["#66C2A5","#FC8D62","#8DA0CB","#E78AC3","#A6D854","#E5C494"]}, "legend": {"title": null}}
          }
        },
        {
          "data": {"name": "diag"},
          "mark": {"type": "line", "color": "#FF0000", "stroke": "#FF0000", "strokeWidth": 1.1},
          "encoding": {"x": {"field": "spec", "type": "quantitative"}, "y": {"field": "sens", "type": "quantitative"}}
        }
      ]
    },
    {
      "title": "Resilience ~ APOE excluded",
      "width": 285, "height": 272,
      "layer": [
        {
          "data": {"name": "roc"},
          "transform": [{"filter": "datum.panel == 'D'"}],
          "mark": {"type": "line", "strokeWidth": 2},
          "encoding": {
            "x": {"field": "spec", "type": "quantitative", "scale": {"domain": [-0.04, 1.04], "reverse": true, "nice": false, "zero": false},
                  "axis": {"title": "Specificity", "values": [0,0.1,0.2,0.3,0.4,0.5,0.6,0.7,0.8,0.9,1]}},
            "y": {"field": "sens", "type": "quantitative", "scale": {"domain": [-0.04, 1.04], "nice": false, "zero": false},
                  "axis": {"title": null, "values": [0,0.1,0.2,0.3,0.4,0.5,0.6,0.7,0.8,0.9,1]}},
            "color": {"field": "curve", "type": "nominal", "scale": {"domain": ["Immune system","Beta-Amyloid","Endocytosis","Cholesterol/Lipid","Angiogenesis","Full PRS"], "range": ["#66C2A5","#FC8D62","#8DA0CB","#E78AC3","#A6D854","#E5C494"]}, "legend": {"title": null}}
          }
        },
        {
          "data": {"name": "diag"},
          "mark": {"type": "line", "color": "#FF0000", "stroke": "#FF0000", "strokeWidth": 1.1},
          "encoding": {"x": {"field": "spec", "type": "quantitative"}, "y": {"field": "sens", "type": "quantitative"}}
        }
      ]
    }
  ],
  "resolve": {"scale": {"color": "shared"}},
  "config": {
    "font": "Liberation Sans",
    "view": {"stroke": "#3a3a3a", "strokeWidth": 1},
    "axis": {
      "grid": true, "gridColor": "#e2e2e2", "gridWidth": 1,
      "domain": false,
      "ticks": true, "tickColor": "#333333", "tickSize": 6, "tickWidth": 1,
      "tickOpacity": {"condition": {"test": "round(datum.value*10) % 2 == 0", "value": 1}, "value": 0},
      "labelExpr": "round(datum.value*10) % 2 == 0 ? format(datum.value, '.1f') : ''",
      "labelFontSize": 13, "labelColor": "#222222", "labelOverlap": false, "labelFlush": false,
      "titleFontSize": 16, "titleFontWeight": "normal", "titleColor": "#111111"
    },
    "axisX": {"labelPadding": 5, "titlePadding": 9},
    "axisY": {"labelAngle": 270, "labelAlign": "center", "labelBaseline": "bottom", "labelPadding": 4, "titlePadding": 12},
    "title": {"fontSize": 20, "fontWeight": "bold", "anchor": "middle", "color": "#000000", "baseline": "alphabetic", "offset": 16},
    "legend": {
      "orient": "right", "offset": 24, "symbolType": "M-2,0H2", "symbolStrokeWidth": 2.5, "symbolSize": 132,
      "labelFontSize": 11.5, "labelColor": "#111111", "labelOffset": 11, "rowPadding": 0.6, "padding": 5
    }
  }
}
